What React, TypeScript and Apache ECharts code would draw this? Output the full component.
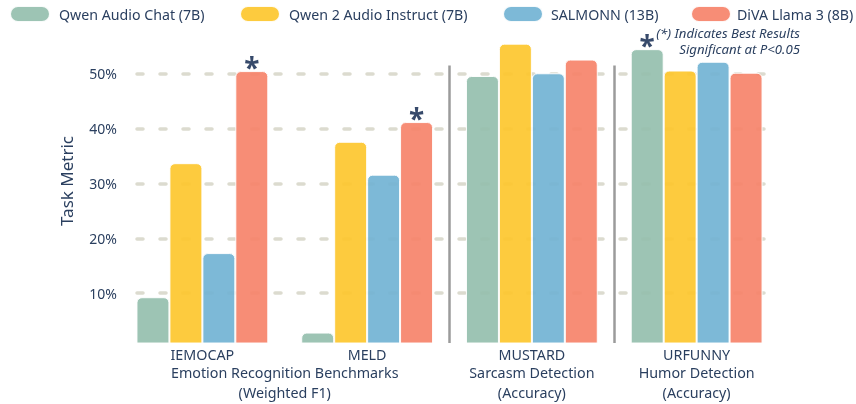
import React, { useEffect, useRef } from 'react';
import * as echarts from 'echarts';

const categories = ['IEMOCAP', 'MELD', 'MUSTARD', 'URFUNNY'];
const seriesNames = ['Qwen Audio Chat (7B)', 'Qwen 2 Audio Instruct (7B)', 'SALMONN (13B)', 'DiVA Llama 3 (8B)'];
const seriesColors = ['#95bfae', '#fdc72e', '#72b3d4', '#f6836a'];
const qwenAudioChat = [0.0925, 0.028, 0.496, 0.545];
const qwen2AudioInstruct = [0.337, 0.376, 0.555, 0.506];
const salmonn = [0.173, 0.316, 0.501, 0.522];
const divaLlama3 = [0.505, 0.412, 0.526, 0.502];
const seriesValues = [qwenAudioChat, qwen2AudioInstruct, salmonn, divaLlama3];
// [seriesIndex, categoryIndex] of significant best results
const significant = [[3, 0], [3, 1], [0, 3]];
const yTicks = [0.1, 0.2, 0.3, 0.4, 0.5];
// half-band positions (boundaryGap false, 9 slots over 4 categories)
const groupLabels = ['', '', 'Emotion Recognition Benchmarks\n(Weighted F1)', '', '', 'Sarcasm Detection\n(Accuracy)', '', 'Humor Detection\n(Accuracy)', ''];
const groupKeys = groupLabels.map((_, i) => 'g' + i);
const separatorSlots = [4, 6];
const yMin = 0.009;
const yMax = 0.6;
const separatorTop = 0.515;
const legendLefts = [9, 239, 502, 690];
const legendTextGaps = [4, 4, 3, 1];

const FONT = 'Noto Sans';
const TEXT = '#2a3f5f';

export default function App() {
  const ref = useRef<HTMLDivElement>(null);
  useEffect(() => {
    const chart = echarts.init(ref.current!, null, { renderer: 'svg' });
    const barSeries = seriesNames.map((name, s) => ({
      type: 'bar',
      name,
      xAxisIndex: 0,
      yAxisIndex: 0,
      barGap: '0%',
      barCategoryGap: '20%',
      itemStyle: {
        color: seriesColors[s],
        opacity: 0.92,
        borderColor: '#ffffff',
        borderWidth: 1,
        borderRadius: [5, 5, 0, 0],
      },
      emphasis: { disabled: true },
      data: seriesValues[s].map((v, c) => {
        const sig = significant.some(([si, ci]) => si === s && ci === c);
        return sig
          ? {
              value: v,
              label: {
                show: true,
                position: 'top',
                distance: -10,
                formatter: '*',
                fontSize: 28,
                fontWeight: 'bold',
                fontFamily: FONT,
                color: '#263b5e',
              },
            }
          : v;
      }),
    }));

    const legends = seriesNames.map((name, i) => ({
      data: [name],
      left: legendLefts[i],
      top: 5,
      padding: 0,
      itemWidth: 40,
      itemHeight: 16,
      icon: 'path://M8,0 H32 A8,8 0 0 1 32,16 H8 A8,8 0 0 1 8,0 Z',
      textStyle: { fontSize: 14.2, color: TEXT, fontFamily: FONT, padding: [0, 0, 0, legendTextGaps[i]] },
      selectedMode: false,
    }));

    const option: any = {
      animation: false,
      textStyle: { fontFamily: FONT },
      legend: legends,
      grid: [
        { left: 120, right: 77, top: 19, bottom: 61 },
        { left: 137, right: 83, top: 19, bottom: 61 },
      ],
      xAxis: [
        {
          type: 'category',
          gridIndex: 0,
          data: categories,
          axisLine: { show: false },
          axisTick: { show: false },
          axisLabel: { fontSize: 14.3, lineHeight: 17, color: TEXT, fontFamily: FONT, margin: 3 },
        },
        {
          type: 'category',
          gridIndex: 0,
          position: 'bottom',
          boundaryGap: false,
          data: groupKeys,
          axisLine: { show: false },
          axisTick: { show: false },
          axisLabel: {
            interval: 0,
            fontSize: 14.3,
            lineHeight: 19.5,
            color: TEXT,
            fontFamily: FONT,
            margin: 20,
            formatter: (_v: string, i: number) => groupLabels[i],
          },
        },
        {
          type: 'category',
          gridIndex: 1,
          data: [''],
          show: false,
        },
      ],
      yAxis: [
        {
          type: 'value',
          gridIndex: 0,
          min: yMin,
          max: yMax,
          show: false,
          splitLine: { show: false },
        },
        {
          type: 'value',
          gridIndex: 1,
          min: yMin,
          max: yMax,
          name: 'Task Metric',
          nameLocation: 'middle',
          nameGap: 62,
          nameTextStyle: { fontSize: 17, color: TEXT, fontFamily: FONT },
          axisLine: { show: false },
          axisTick: { show: false, customValues: yTicks },
          axisLabel: {
            customValues: yTicks,
            fontSize: 14,
            color: TEXT,
            fontFamily: FONT,
            margin: 20,
            formatter: (v: number) => Math.round(v * 100) + '%',
          },
          splitLine: {
            show: true,
            lineStyle: { color: '#dcdbcf', width: 3.5, type: [6, 17], cap: 'round' },
          },
        },
      ],
      series: [
        ...barSeries,
        {
          type: 'line',
          xAxisIndex: 1,
          yAxisIndex: 0,
          data: [],
          silent: true,
          markLine: {
            silent: true,
            symbol: 'none',
            label: { show: false },
            lineStyle: { color: '#9b9b9b', width: 2.5, type: 'solid' },
            data: separatorSlots.map((slot) => [
              { xAxis: groupKeys[slot], yAxis: yMin },
              { xAxis: groupKeys[slot], yAxis: separatorTop },
            ]),
          },
        },
      ],
      graphic: [
        {
          type: 'text',
          x: 800,
          y: 25,
          style: {
            text: '(*) Indicates Best Results\nSignificant at P<0.05',
            align: 'right',
            verticalAlign: 'top',
            fontSize: 13.2,
            fontStyle: 'italic',
            fontFamily: FONT,
            lineHeight: 16,
            fill: TEXT,
          },
        },
      ],
    };
    chart.setOption(option);
    return () => chart.dispose();
  }, []);
  return <div ref={ref} style={{ position: 'fixed', left: 0, top: 0, width: 856, height: 404 }} />;
}
